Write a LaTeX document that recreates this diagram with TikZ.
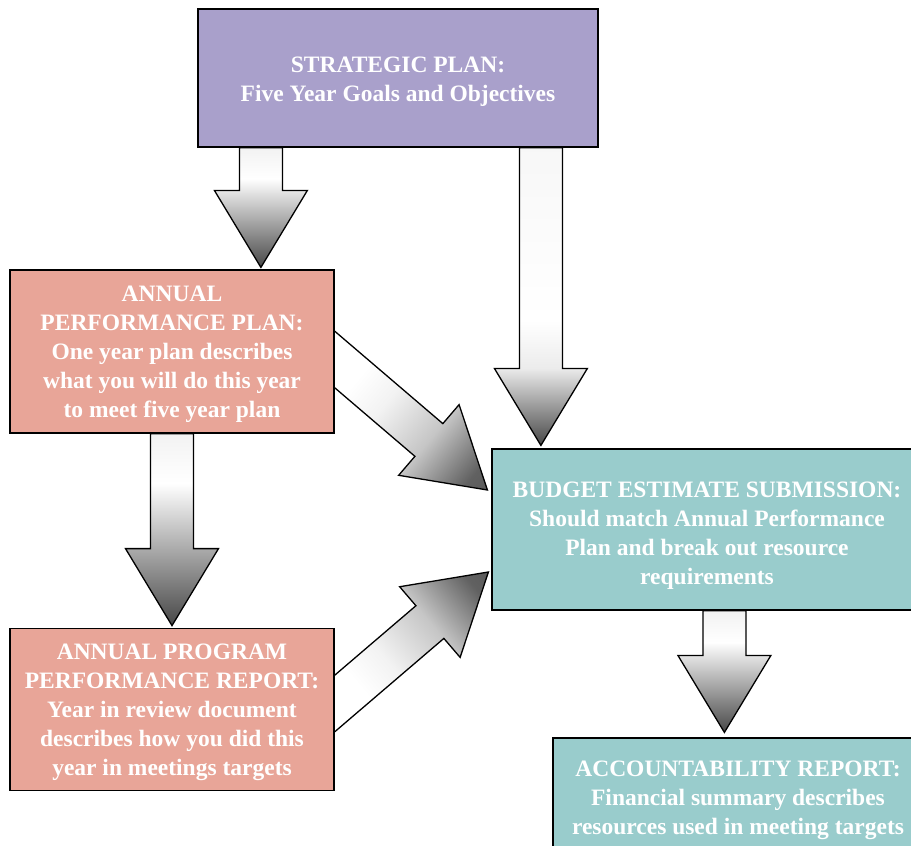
\documentclass[tikz,border=0pt]{standalone}
\usepackage{fontspec}
\setmainfont{Liberation Serif}
\usetikzlibrary{calc, positioning, backgrounds}

\definecolor{planpurple}{RGB}{169,160,203}
\definecolor{plansalmon}{RGB}{232,165,152}
\definecolor{budgetteal}{RGB}{153,204,204}

% light at the tail, dark at the tip
\pgfdeclareverticalshading{fatshade}{100bp}{color(0bp)=(black!72); color(25bp)=(black!72); color(62bp)=(white); color(75bp)=(gray!10); color(100bp)=(gray!10)}
\pgfdeclareverticalshading{longshade}{100bp}{color(0bp)=(black!72); color(25bp)=(black!72); color(38bp)=(gray!15); color(46bp)=(white); color(75bp)=(gray!6); color(100bp)=(gray!6)}
\pgfdeclareverticalshading{diagshade}{100bp}{color(0bp)=(black!72); color(20bp)=(black!62); color(35bp)=(gray!45); color(50bp)=(gray!10); color(60bp)=(white); color(100bp)=(white)}

% block arrow: [shading] shading angle, tail, tip
\newcommand{\fatarrow}[4][fatshade]{%
  \coordinate (fa-b) at ($(#4)!77pt!(#3)$);
  \path[fat, shading = #1, shading angle = #2]
    ($(#3)!21.5pt!90:(#4)$) -- ($(fa-b)!21.5pt!90:(#4)$) -- ($(fa-b)!46.5pt!90:(#4)$) -- (#4)
    -- ($(fa-b)!46.5pt!-90:(#4)$) -- ($(fa-b)!21.5pt!-90:(#4)$) -- ($(#3)!21.5pt!-90:(#4)$) -- cycle;}

% pushes a box text down a little
\newcommand{\topgap}[1]{\rule{0pt}{#1}}

\begin{document}
\begin{tikzpicture}[
            x = 1pt, y = -1pt, % one unit per pixel, y going down
            semithick % line style
        ]

        \tikzstyle{box}=[
            draw = black,
            line width = 1.2pt,
            text = white,
            font = \bfseries\fontsize{23.5}{29}\selectfont,
            align = center,
            inner sep = 0pt
        ]
        \tikzstyle{fat}=[
            draw = black,
            line width = 1.3pt,
            line join = miter,
            shade
        ]

        \useasboundingbox (0,0) rectangle (911,846);

        \node[box, fill = planpurple, minimum width = 400pt, minimum height = 138pt] (sp) at (398,78)
            {\topgap{22pt}STRATEGIC PLAN:\\Five Year Goals and Objectives};
        \node[box, fill = plansalmon, minimum width = 324pt, minimum height = 163pt] (app) at (172,351.5)
            {\topgap{22pt}ANNUAL\\PERFORMANCE PLAN:\\One year plan describes\\what you will do this year\\to meet five year plan};
        \node[box, fill = plansalmon, minimum width = 324pt, minimum height = 162pt] (appr) [below=194pt of app]
            {\topgap{22pt}ANNUAL PROGRAM\\PERFORMANCE REPORT:\\Year in review document\\describes how you did this\\year in meetings targets};
        \node[box, fill = budgetteal, minimum width = 430pt, minimum height = 161pt] (bes) at (707,529.5)
            {\topgap{28pt}BUDGET ESTIMATE SUBMISSION:\\Should match Annual Performance\\Plan and break out resource\\requirements};
        \node[box, fill = budgetteal, minimum width = 370pt, minimum height = 118pt] (ar) at (738,797)
            {\topgap{22pt}ACCOUNTABILITY REPORT:\\Financial summary describes\\resources used in meeting targets};

        \begin{scope}[on background layer]
            \coordinate (a1s) at ([xshift=63.5pt]sp.south west);
            \coordinate (a1e) at ([yshift=2pt]a1s |- app.north);
            \coordinate (a2s) at ([xshift=343.5pt]sp.south west);
            \coordinate (a2e) at ([yshift=3pt]a2s |- bes.north);
            \coordinate (a3e) at ([yshift=2pt]appr.north);
            \coordinate (a4s) at ([xshift=233pt]bes.south west);
            \coordinate (a4e) at ([yshift=5pt]a4s |- ar.north);
            \coordinate (d1s) at ([xshift=-34pt, yshift=21.2pt]app.east);
            \coordinate (d1e) at ([xshift=-4pt, yshift=39.5pt]bes.west);
            \coordinate (d2s) at ([xshift=-34pt, yshift=-23.5pt]appr.east);
            \coordinate (d2e) at ([xshift=-3pt, yshift=-42.5pt]bes.west);

            \fatarrow{0}{a1s}{a1e}
            \fatarrow[longshade]{0}{a2s}{a2e}
            \fatarrow{0}{app.south}{a3e}
            \fatarrow{0}{a4s}{a4e}
            \fatarrow[diagshade]{50}{d1s}{d1e}
            \fatarrow[diagshade]{130}{d2s}{d2e}
        \end{scope}

  \end{tikzpicture}
\end{document}
